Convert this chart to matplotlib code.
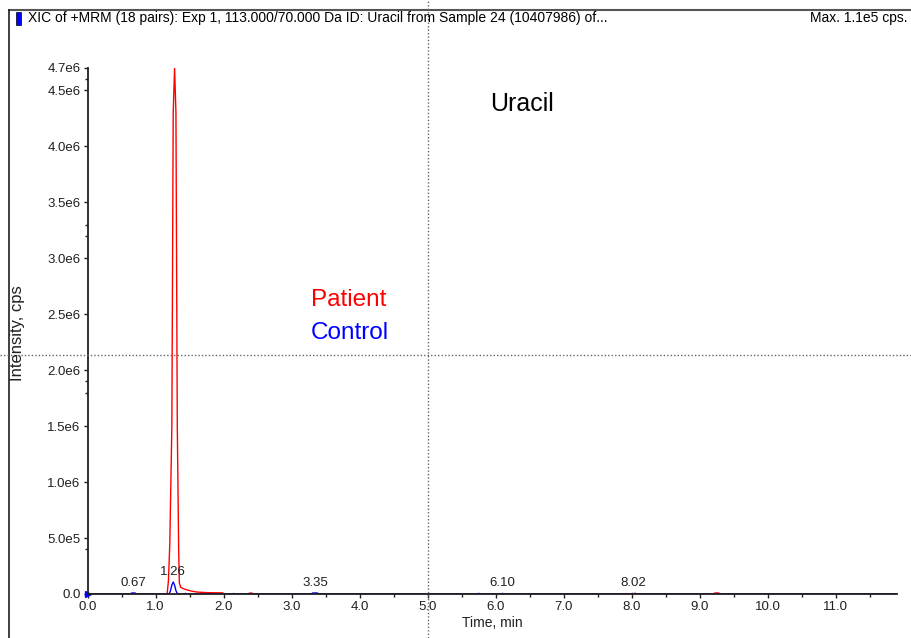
import matplotlib
matplotlib.use("Agg")
import matplotlib.pyplot as plt
from matplotlib.lines import Line2D
from matplotlib.patches import Rectangle

plt.rcParams['font.family'] = ['Liberation Sans', 'DejaVu Sans']

# Patient trace (red) - time in min, intensity in cps
patient_t = [0.0, 1.17, 1.19, 1.21, 1.24, 1.26, 1.28, 1.30, 1.32, 1.34, 1.35, 1.37, 1.42, 1.50,
             1.60, 1.75, 1.99, 2.00, 2.14, 2.15, 2.16, 2.36, 2.38, 2.42, 2.44, 8.03, 8.05, 8.07,
             9.20, 9.22, 9.28, 9.30, 11.9]
patient_y = [0, 0, 1.2e5, 4.5e5, 1.5e6, 4.3e6, 4.7e6, 4.3e6, 1.5e6, 4.0e5, 1.0e5, 6.0e4, 4.5e4, 3.0e4,
             1.8e4, 1.2e4, 1.0e4, 0, 0, 6e3, 0, 0, 8e3, 8e3, 0, 0, 8e3, 0,
             0, 9e3, 9e3, 0, 0]

# Control trace (blue)
control_t = [0.0, 0.63, 0.65, 0.70, 0.72, 1.20, 1.22, 1.24, 1.26, 1.28, 1.30, 1.32, 1.34, 1.42, 1.44,
             1.46, 3.29, 3.31, 3.38, 3.40, 5.73, 5.75, 5.77, 6.08, 6.10, 6.12, 7.99, 8.01, 8.03, 11.9]
control_y = [0, 0, 9e3, 9e3, 0, 0, 3.0e4, 8.0e4, 1.07e5, 8.0e4, 3.0e4, 5e3, 0, 0, 6e3,
             0, 0, 9e3, 9e3, 0, 0, 6e3, 0, 0, 6e3, 0, 0, 6e3, 0, 0]

peak_times = [0.67, 1.26, 3.35, 6.10, 8.02]
peak_label_y = [1.0e5, 2.0e5, 1.0e5, 1.0e5, 1.0e5]

yticks = [0, 5e5, 1e6, 1.5e6, 2e6, 2.5e6, 3e6, 3.5e6, 4e6, 4.5e6, 4.7e6]
ytick_labels = ["0.0", "5.0e5", "1.0e6", "1.5e6", "2.0e6", "2.5e6", "3.0e6", "3.5e6",
                "4.0e6", "4.5e6", "4.7e6"]
yminor = [0.4e6, 1.9e6, 1.8e6, 3.3e6, 3.2e6, 4.6e6]
xticks = list(range(0, 12))
xtick_labels = [f"{v:.1f}" for v in xticks]

W, H = 912, 638
fig = plt.figure(figsize=(W / 100, H / 100), dpi=100)
ax = fig.add_axes([87.5 / W, (H - 594) / H, (897 - 87.5) / W, (594 - 68) / H])

ax.plot(patient_t, patient_y, color="#ff0000", lw=1.0)
ax.plot(control_t, control_y, color="#0000ff", lw=1.0)
ax.plot([0], [0], marker=">", color="#0000ff", markersize=5, clip_on=False)

for t, y in zip(peak_times, peak_label_y):
    ax.text(t, y, f"{t:.2f}", ha="center", va="center", fontsize=9.5, color="#202020")

ax.set_xlim(0, 11.9)
ax.set_ylim(0, 4.7e6)
for s in ["top", "right"]:
    ax.spines[s].set_visible(False)
for s in ["left", "bottom"]:
    ax.spines[s].set_color("#202020")
    ax.spines[s].set_linewidth(1.3)

ax.set_xticks(xticks)
ax.set_xticklabels(xtick_labels)
ax.set_xticks([x + 0.5 for x in xticks], minor=True)
ax.set_yticks(yticks)
ax.set_yticklabels(ytick_labels)
ax.set_yticks(yminor, minor=True)
ax.tick_params(which="major", length=3, width=1, colors="#202020", labelsize=9.5, pad=2)
ax.tick_params(which="minor", length=2, width=1, colors="#202020")

ax.set_xlabel("Time, min", fontsize=10, color="#202020", labelpad=2)
fig.text(18 / W, 1 - 333 / H, "Intensity, cps", rotation=90, ha="center", va="center",
         fontsize=12, color="#202020")

fig.text(522 / W, 1 - 104 / H, "Uracil", ha="center", va="center", fontsize=18, color="black")
fig.text(311 / W, 1 - 300 / H, "Patient", ha="left", va="center", fontsize=17.5, color="#ff0000")
fig.text(311 / W, 1 - 333 / H, "Control", ha="left", va="center", fontsize=17.5, color="#0000ff")

# header banner and frame
fig.text(28 / W, 1 - 18 / H,
         "XIC of +MRM (18 pairs): Exp 1, 113.000/70.000 Da ID: Uracil from Sample 24 (10407986) of...",
         ha="left", va="center", fontsize=10, color="black")
fig.text(908 / W, 1 - 18 / H, "Max. 1.1e5 cps.", ha="right", va="center", fontsize=10, color="black")
fig.add_artist(Rectangle((16 / W, 1 - 25 / H), 5 / W, 13 / H, transform=fig.transFigure,
                         facecolor="#0000ff", edgecolor="black", lw=0.5))
fig.add_artist(Line2D([9 / W, 1], [1 - 10 / H, 1 - 10 / H], transform=fig.transFigure,
                      color="#555555", lw=1.5))
fig.add_artist(Line2D([9 / W, 9 / W], [0, 1 - 10 / H], transform=fig.transFigure,
                      color="#202020", lw=1.2))

# dotted crosshair
fig.add_artist(Line2D([428 / W, 428 / W], [0, 1], transform=fig.transFigure,
                      color="#666666", lw=1, linestyle=(0, (1, 1.5))))
fig.add_artist(Line2D([0, 1], [1 - 355 / H, 1 - 355 / H], transform=fig.transFigure,
                      color="#666666", lw=1, linestyle=(0, (1, 1.5))))

fig.savefig("out.png", dpi=100)
